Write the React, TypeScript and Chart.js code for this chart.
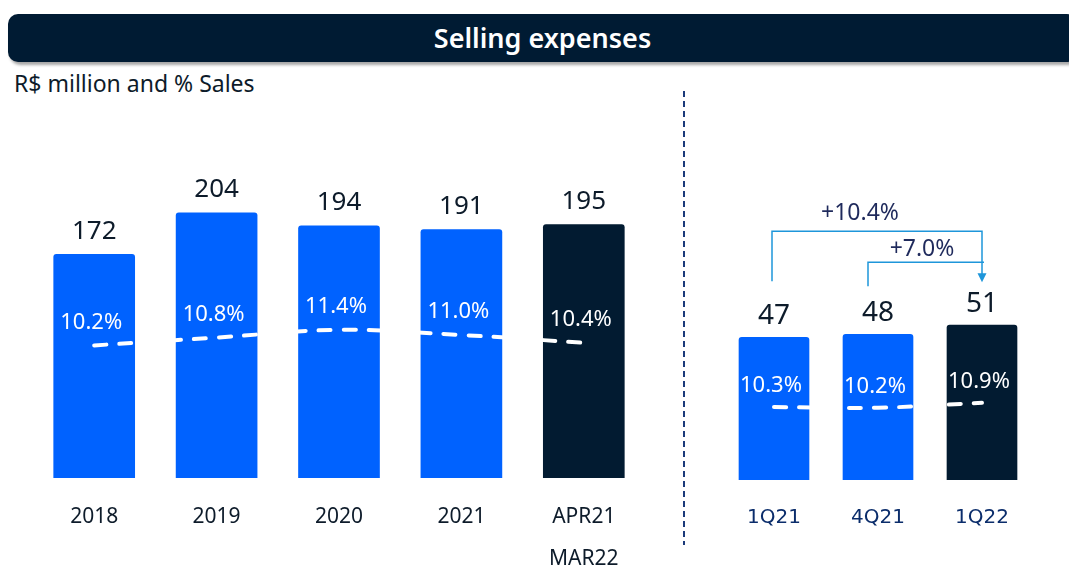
import React, { useEffect, useRef } from "react";
import { Chart, registerables } from "chart.js";

Chart.register(...registerables);

// ---- data ----
const annualLabels: (string | string[])[] = ["2018", "2019", "2020", "2021", ["APR21", "MAR22"]];
const annualValues = [172, 204, 194, 191, 195];
const annualPct = [10.2, 10.8, 11.4, 11.0, 10.4];

const quarterLabels = ["1Q21", "4Q21", "1Q22"];
const quarterValues = [47, 48, 51];
const quarterPct = [10.3, 10.2, 10.9];

const growthLabels = ["+10.4%", "+7.0%"];

// ---- styles ----
const BLUE = "#0062FF";
const NAVY = "#021B31";
const TEXT = "#0D1B2A";
const FONT = "'Noto Sans', sans-serif";

function makeLabelsPlugin(valueOffset: number, valueSize: number, pctOffset: number) {
  return {
    id: "valueLabels",
    afterDatasetsDraw(chart: any) {
      const ctx = chart.ctx;
      const lineMeta = chart.getDatasetMeta(0);
      const barMeta = chart.getDatasetMeta(1);
      ctx.save();
      ctx.textAlign = "center";
      ctx.textBaseline = "middle";
      ctx.font = `${valueSize}px ${FONT}`;
      ctx.fillStyle = TEXT;
      barMeta.data.forEach((bar: any, i: number) => {
        ctx.fillText(String(chart.data.datasets[1].data[i]), bar.x, bar.y - valueOffset);
      });
      ctx.font = `22px ${FONT}`;
      ctx.fillStyle = "#FFFFFF";
      lineMeta.data.forEach((pt: any, i: number) => {
        const v = chart.data.datasets[0].data[i] as number;
        ctx.fillText(v.toFixed(1) + "%", pt.x - 3, pt.y - pctOffset);
      });
      ctx.restore();
    },
  };
}

const bracketPlugin = {
  id: "brackets",
  afterDraw(chart: any) {
    const ctx = chart.ctx;
    const xs = [0, 1, 2].map((i) => chart.scales.x.getPixelForValue(i));
    const tops = quarterValues.map((v) => chart.scales.y.getPixelForValue(v));
    const levelA = tops[2] - 94;
    const levelB = tops[2] - 63;
    const tip = tops[2] - 43;
    ctx.save();
    ctx.strokeStyle = "#1E96DA";
    ctx.fillStyle = "#1E96DA";
    ctx.lineWidth = 1.5;
    ctx.beginPath();
    ctx.moveTo(xs[0] - 2, tops[0] - 56);
    ctx.lineTo(xs[0] - 2, levelA);
    ctx.lineTo(xs[2], levelA);
    ctx.lineTo(xs[2], tip - 8);
    ctx.stroke();
    ctx.beginPath();
    ctx.moveTo(xs[1] - 10, tops[1] - 48);
    ctx.lineTo(xs[1] - 10, levelB);
    ctx.lineTo(xs[2] + 2, levelB);
    ctx.stroke();
    ctx.beginPath();
    ctx.moveTo(xs[2] - 4.5, tip - 9);
    ctx.lineTo(xs[2] + 4.5, tip - 9);
    ctx.lineTo(xs[2], tip);
    ctx.closePath();
    ctx.fill();
    ctx.font = `23px ${FONT}`;
    ctx.fillStyle = "#1F2A5C";
    ctx.textAlign = "center";
    ctx.textBaseline = "middle";
    ctx.fillText(growthLabels[0], (xs[0] + xs[2]) / 2 - 18, levelA - 18);
    ctx.fillText(growthLabels[1], (xs[1] + xs[2]) / 2 - 8, levelB - 13);
    ctx.restore();
  },
};

function buildConfig(opts: {
  labels: any[];
  values: number[];
  pct: number[];
  yMax: number;
  y2Max: number;
  barThickness: number;
  padding: { left: number; right: number; top: number; bottom: number };
  tickFont: any;
  tickColor: string;
  plugins: any[];
}): any {
  const colors = opts.values.map((_, i) => (i === opts.values.length - 1 ? NAVY : BLUE));
  return {
    type: "bar",
    data: {
      labels: opts.labels,
      datasets: [
        {
          type: "line",
          data: opts.pct,
          yAxisID: "y2",
          borderColor: "#FFFFFF",
          borderWidth: 4,
          borderDash: [12, 13],
          borderCapStyle: "round",
          tension: 0.35,
          pointRadius: 0,
          fill: false,
          order: 0,
        },
        {
          type: "bar",
          data: opts.values,
          yAxisID: "y",
          backgroundColor: colors,
          borderRadius: 3,
          borderSkipped: "bottom",
          barThickness: opts.barThickness,
          order: 1,
        },
      ],
    },
    options: {
      responsive: false,
      animation: false,
      devicePixelRatio: 1,
      layout: { padding: opts.padding },
      plugins: { legend: { display: false }, tooltip: { enabled: false } },
      scales: {
        x: {
          grid: { display: false, drawTicks: false },
          border: { display: false },
          ticks: { font: opts.tickFont, color: opts.tickColor, padding: 18, maxRotation: 0, autoSkip: false },
        },
        y: { display: false, min: 0, max: opts.yMax },
        y2: { display: false, min: 0, max: opts.y2Max },
      },
    },
    plugins: opts.plugins,
  };
}

function ChartCanvas({ config, width, height, left }: { config: any; width: number; height: number; left: number }) {
  const ref = useRef<HTMLCanvasElement | null>(null);
  useEffect(() => {
    if (!ref.current) return;
    const chart = new Chart(ref.current, config);
    return () => chart.destroy();
  }, []);
  return (
    <canvas
      ref={ref}
      width={width}
      height={height}
      style={{ position: "absolute", left, top: 0, width, height }}
    />
  );
}

export default function App() {
  const annualConfig = buildConfig({
    labels: annualLabels,
    values: annualValues,
    pct: annualPct,
    yMax: 260,
    y2Max: 26,
    barThickness: 81,
    padding: { left: 33, right: 35, top: 140, bottom: 2 },
    tickFont: { family: FONT, size: 21, lineHeight: 2.0 },
    tickColor: TEXT,
    plugins: [makeLabelsPlugin(23, 26, 23)],
  });
  const quarterConfig = buildConfig({
    labels: quarterLabels,
    values: quarterValues,
    pct: quarterPct,
    yMax: 112,
    y2Max: 48,
    barThickness: 70,
    padding: { left: 32, right: 35, top: 140, bottom: 44 },
    tickFont: { family: "'DejaVu Sans', sans-serif", size: 20, lineHeight: 2.0 },
    tickColor: "#0B2D6B",
    plugins: [makeLabelsPlugin(21, 28, 21), bracketPlugin],
  });

  return (
    <div
      style={{
        position: "fixed",
        left: 0,
        top: 0,
        width: 1069,
        height: 566,
        overflow: "hidden",
        background: "#FFFFFF",
        fontFamily: FONT,
      }}
    >
      <div
        style={{
          position: "absolute",
          left: 8,
          top: 14,
          width: 1069,
          height: 48,
          background: "#001B33",
          borderRadius: 10,
          boxShadow: "2px 3px 3px rgba(0,0,0,0.35)",
          color: "#FFFFFF",
          fontSize: 27,
          fontWeight: 600,
          lineHeight: "48px",
          textAlign: "center",
        }}
      >
        Selling expenses
      </div>
      <div style={{ position: "absolute", left: 14, top: 67, fontSize: 23, color: TEXT, lineHeight: "32px" }}>
        R$ million and % Sales
      </div>
      <svg style={{ position: "absolute", left: 0, top: 0 }} width={1069} height={566}>
        <line x1={684} y1={91} x2={684} y2={545} stroke="#1B3A7A" strokeWidth={2} strokeDasharray="6 4" />
      </svg>
      <ChartCanvas config={annualConfig} width={680} height={600} left={0} />
      <ChartCanvas config={quarterConfig} width={379} height={600} left={690} />
    </div>
  );
}
